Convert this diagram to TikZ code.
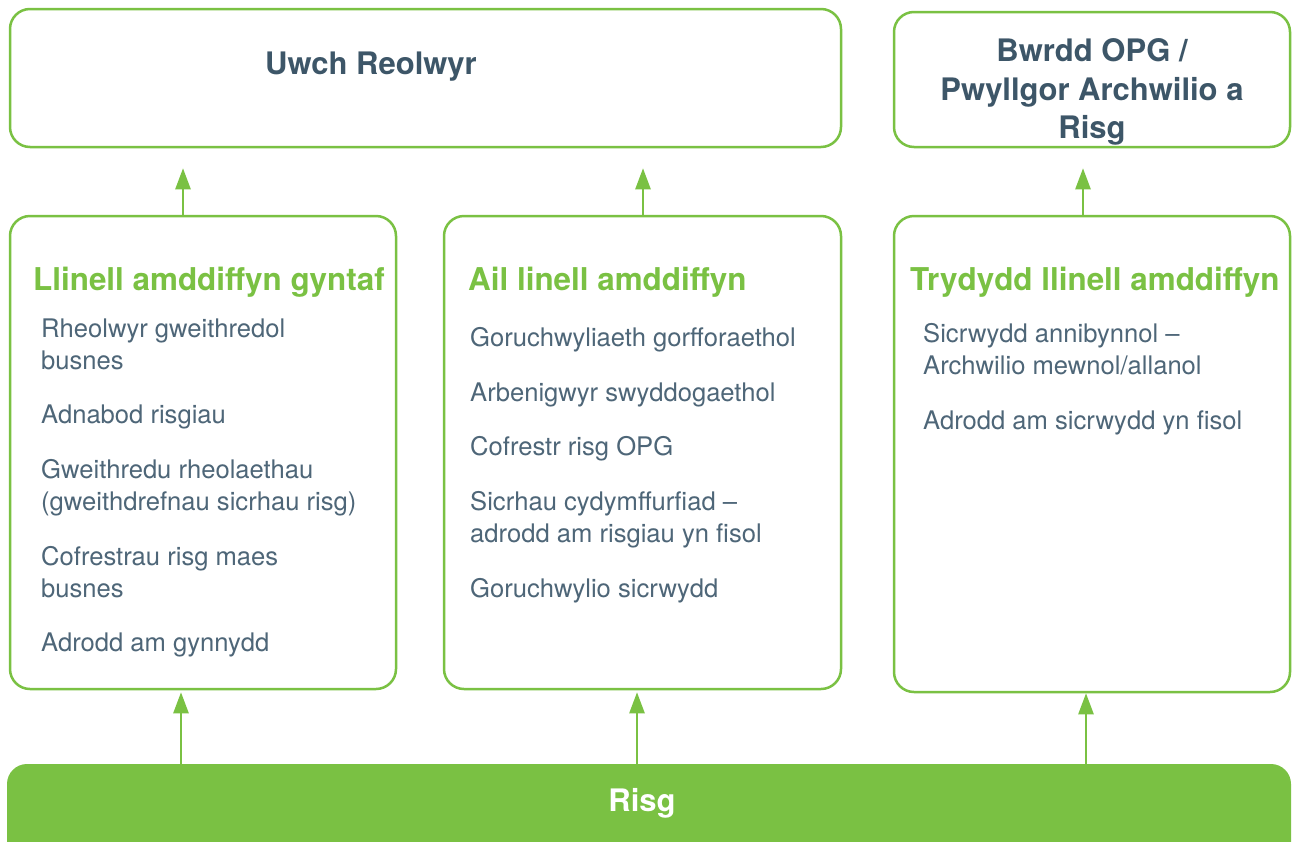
\documentclass[tikz,border=0pt]{standalone}
\usepackage{fontspec}
\setmainfont{TeX Gyre Heros}
\usetikzlibrary{arrows.meta}
\definecolor{lgreen}{HTML}{7AC143}
\definecolor{dslate}{HTML}{3D5668}
\definecolor{bslate}{HTML}{4E6678}
\tikzset{
  box/.style={draw=lgreen, line width=2.5pt, rounded corners=20pt, inner sep=0pt, fill=white},
  title/.style={font=\fontsize{31}{38.5}\selectfont\bfseries, text=dslate, align=center, inner sep=0pt},
  heading/.style={font=\fontsize{31.4}{38}\selectfont\bfseries, text=lgreen, anchor=base west, inner sep=0pt},
  item/.style={font=\fontsize{25.6}{31.5}\selectfont, text=bslate, anchor=base west, align=left, inner sep=0pt},
  arr/.style={draw=lgreen, line width=2.5pt, -{Triangle[width=15pt,length=21pt]}},
}
\begin{document}
\begin{tikzpicture}[x=1pt,y=-1pt]
\useasboundingbox (0,0) rectangle (1292,841);
\clip (0,0) rectangle (1292,841);
% boxes
\node[box, minimum width=831pt, minimum height=138pt] (top) at (425.5,78) {};
\node[box, minimum width=396pt, minimum height=135pt] (board) at (1092,79.5) {};
\node[box, minimum width=386pt, minimum height=473pt] (b1) at (203,452.5) {};
\node[box, minimum width=397pt, minimum height=473pt] (b2) at (642.5,452.5) {};
\node[box, minimum width=396pt, minimum height=476pt] (b3) at (1092,454) {};
\node[fill=lgreen, rounded corners=20pt, minimum width=1284pt, minimum height=106pt, inner sep=0pt] (risk) at (649,817) {};
% titles
\node[title] (toptxt) at (371,67) {Uwch Reolwyr};
\node[title] (boardtxt) at (1092,92) {Bwrdd OPG /\\Pwyllgor Archwilio a\\Risg};
\node[font=\fontsize{31}{38}\selectfont\bfseries, text=white, inner sep=0pt] (risktxt) at (642,803) {Risg};
% headings
\node[heading] (h1) at (33,290) {Llinell amddiffyn gyntaf};
\node[heading] (h2) at (468,290) {Ail linell amddiffyn};
\node[heading] (h3) at (910,290) {Trydydd llinell amddiffyn};
% items box 1 (anchor = baseline of last line)
\node[item] (i11) at (41,369) {Rheolwyr gweithredol\\busnes};
\node[item] (i12) at (41,423) {Adnabod risgiau};
\node[item] (i13) at (41,510) {Gweithredu rheolaethau\\(gweithdrefnau sicrhau risg)};
\node[item] (i14) at (41,597) {Cofrestrau risg maes\\busnes};
\node[item] (i15) at (41,651) {Adrodd am gynnydd};
% items box 2
\node[item] (i21) at (470,346) {Goruchwyliaeth gorfforaethol};
\node[item] (i22) at (470,401) {Arbenigwyr swyddogaethol};
\node[item] (i23) at (470,455) {Cofrestr risg OPG};
\node[item] (i24) at (470,542) {Sicrhau cydymffurfiad --\\adrodd am risgiau yn fisol};
\node[item] (i25) at (470,597) {Goruchwylio sicrwydd};
% items box 3
\node[item] (i31) at (923,374) {Sicrwydd annibynnol --\\Archwilio mewnol/allanol};
\node[item] (i32) at (923,429) {Adrodd am sicrwydd yn fisol};
% arrow columns
\coordinate (u1) at (183,0);
\coordinate (u2) at (643,0);
\coordinate (u3) at (1083,0);
\coordinate (d1) at (181,0);
\coordinate (d2) at (637,0);
\coordinate (d3) at (1086,0);
\draw[arr, shorten >=20pt] (u1 |- b1.north) -- (u1 |- top.south);
\draw[arr, shorten >=20pt] (u2 |- b2.north) -- (u2 |- top.south);
\draw[arr, shorten >=20pt] (u3 |- b3.north) -- (u3 |- board.south);
\draw[arr, shorten >=2pt] (d1 |- risk.north) -- (d1 |- b1.south);
\draw[arr, shorten >=2pt] (d2 |- risk.north) -- (d2 |- b2.south);
\draw[arr, shorten >=0pt] ([yshift=-2pt]d3 |- risk.north) -- (d3 |- b3.south);
\end{tikzpicture}
\end{document}
